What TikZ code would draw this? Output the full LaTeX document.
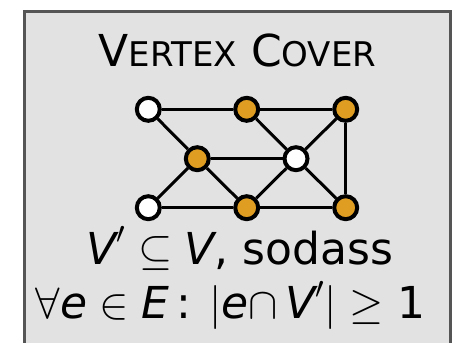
\RequirePackage{fix-cm}
\documentclass[tikz,border=0pt]{standalone}
\usepackage{fontspec}
\setmainfont{DejaVu Sans}
\definecolor{framecol}{HTML}{555555}
\definecolor{boxfill}{HTML}{E2E2E2}
\definecolor{vorange}{HTML}{DF9D21}
\newcommand{\mv}[1]{\mbox{\itshape #1}}
\tikzset{
  vtx/.style={circle, draw=black, line width=4pt, minimum size=23pt, inner sep=0pt},
  incover/.style={vtx, fill=vorange},
  outcover/.style={vtx, fill=white},
  edge/.style={draw=black, line width=3pt},
  txt/.style={anchor=base, inner sep=0pt, font=\fontsize{44}{54}\selectfont}
}
\begin{document}
\begin{tikzpicture}[x=1pt,y=-1pt]
\useasboundingbox (0,0) rectangle (453,343);
\draw[framecol, line width=3pt, fill=boxfill] (24.5,11.5) rectangle (450.5,360);
\node[txt] (title) at (237.5,66.7) {V{\fontsize{34}{34}\selectfont ERTEX} C{\fontsize{34}{34}\selectfont OVER}};
% vertices
\node[outcover] (tl) at (148.3,109.3) {};
\node[incover]  (tm) at (246.7,109.3) {};
\node[incover]  (tr) at (345.7,109.3) {};
\node[incover]  (ml) at (197.3,158.7) {};
\node[outcover] (mr) at (296,158.7) {};
\node[outcover] (bl) at (148.3,207.7) {};
\node[incover]  (bm) at (246.7,207.7) {};
\node[incover]  (br) at (345.7,207.7) {};
% edges
\begin{scope}[on background layer/.try]
\end{scope}
\draw[edge] (tl) -- (tm);
\draw[edge] (tm) -- (tr);
\draw[edge] (tl) -- (ml);
\draw[edge] (tm) -- (mr);
\draw[edge] (tr) -- (mr);
\draw[edge] (tr) -- (br);
\draw[edge] (ml) -- (mr);
\draw[edge] (ml) -- (bl);
\draw[edge] (ml) -- (bm);
\draw[edge] (mr) -- (bm);
\draw[edge] (mr) -- (br);
\draw[edge] (bl) -- (bm);
\draw[edge] (bm) -- (br);
% text
\node[txt] (line1) at (240,264) {$\mv{V}'\subseteq\mv{V}$, sodass};
\node[txt] (line2) at (230.5,318.3) {$\forall\mv{e}\in\mv{E}$\,: $|\mv{e}{\cap}\,\mv{V}'|\geq$ 1};
\end{tikzpicture}
\end{document}
